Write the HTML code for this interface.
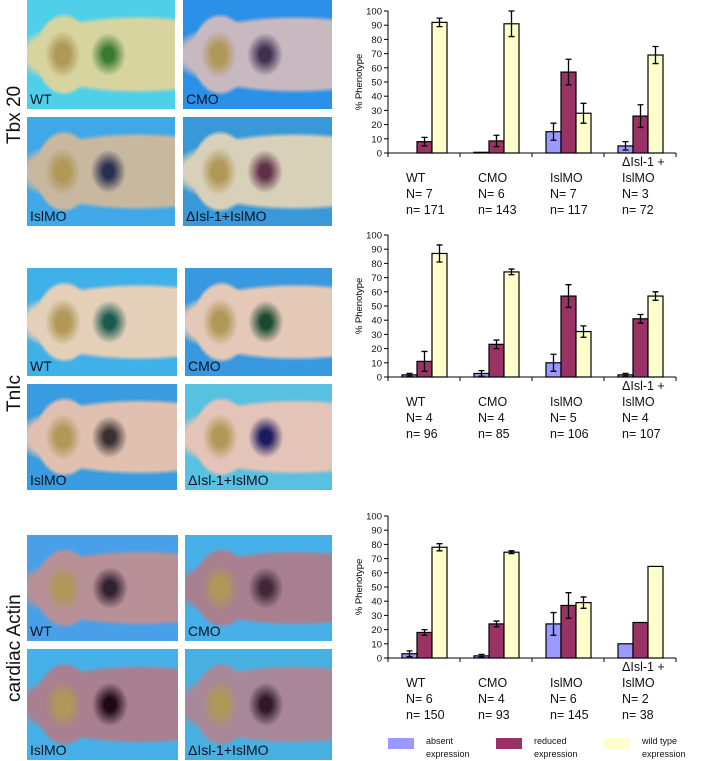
<!DOCTYPE html>
<html><head><meta charset="utf-8"><style>
body{margin:0;width:702px;height:761px;background:#fff;position:relative;overflow:hidden;font-family:"Liberation Sans",sans-serif}
.ph{position:absolute;overflow:hidden}
.ph span{position:absolute;left:3px;bottom:2px;font-size:14px;color:#112}
.side{position:absolute;font-size:19px;transform:rotate(-90deg);transform-origin:left top;white-space:nowrap;color:#111}
svg{position:absolute;left:0;top:0}
</style></head><body>
<div id="photos"></div>
<div class="side" style="left:4px;top:144px">Tbx 20</div>
<div class="side" style="left:4px;top:412px">TnIc</div>
<div class="side" style="left:4px;top:702px">cardiac Actin</div>
<svg id="chart" width="702" height="761"></svg>
<script>
const categories=["WT","CMO","IslMO","ΔIsl-1 + IslMO"];
const absent1=[0,0.5,15,5], reduced1=[8,8.5,57,26], wild1=[92,91,28,69];
const absentErr1=[0,0,6,3], reducedErr1=[3,4,9,8], wildErr1=[3,9,7,6];
const absent2=[1.5,2.5,10,1.5], reduced2=[11,23,57,41], wild2=[87,74,32,57];
const absentErr2=[1,2,6,1], reducedErr2=[7,3,8,3], wildErr2=[6,2,4,3];
const absent3=[3,1.5,24,10], reduced3=[18,24,37,25], wild3=[78,74.5,39,64.5];
const absentErr3=[2,1,8,0], reducedErr3=[2,2,9,0], wildErr3=[2.5,1,4,0];
const nBig1=[7,6,7,3], nSmall1=[171,143,117,72];
const nBig2=[4,4,5,4], nSmall2=[96,85,106,107];
const nBig3=[6,4,6,2], nSmall3=[150,93,145,38];
const yTicks=[0,10,20,30,40,50,60,70,80,90,100];
const colors=["#9999ff","#993366","#ffffcc"];
const NS="http://www.w3.org/2000/svg";
const svg=document.getElementById('chart');
function mk(t,a,p){const e=document.createElementNS(NS,t);for(const k in a)e.setAttribute(k,a[k]);(p||svg).appendChild(e);return e;}
const charts=[
 {y0:153,a:absent1,r:reduced1,w:wild1,ea:absentErr1,er:reducedErr1,ew:wildErr1,N:nBig1,n:nSmall1,ly:182},
 {y0:377,a:absent2,r:reduced2,w:wild2,ea:absentErr2,er:reducedErr2,ew:wildErr2,N:nBig2,n:nSmall2,ly:406},
 {y0:658,a:absent3,r:reduced3,w:wild3,ea:absentErr3,er:reducedErr3,ew:wildErr3,N:nBig3,n:nSmall3,ly:687}];
const ax=388, gW=72, bw=15;
charts.forEach((c,ci)=>{
 const g=mk('g',{});
 
 
 const y=v=>c.y0-v*1.42;
 mk('line',{x1:ax,y1:y(100),x2:ax,y2:c.y0,stroke:'#000','stroke-width':1},g);
 mk('line',{x1:ax,y1:c.y0,x2:ax+4*gW,y2:c.y0,stroke:'#000','stroke-width':1},g);
 for(let i=0;i<=4;i++)mk('line',{x1:ax+i*gW,y1:c.y0,x2:ax+i*gW,y2:c.y0+4,stroke:'#000'},g);
 yTicks.forEach(t=>{mk('line',{x1:ax-4,y1:y(t),x2:ax,y2:y(t),stroke:'#000'},g);
  const tx=mk('text',{x:ax-6,y:y(t)+3.5,'font-size':9.5,'text-anchor':'end',fill:'#111'},g);tx.textContent=t;});
 const yl=mk('text',{x:0,y:0,'font-size':9.5,'text-anchor':'middle',transform:`translate(362,${y(50)}) rotate(-90)`},g);
 yl.textContent='% Phenotype';
 
 
 const series=[[c.a,c.ea],[c.r,c.er],[c.w,c.ew]];
 categories.forEach((cat,i)=>{
  const gx=ax+i*gW+14;
  series.forEach((s,si)=>{
   const v=s[0][i],e=s[1][i],x=gx+si*bw;
   if(v>0){const b=mk('rect',{x:x,y:y(v),width:bw,height:c.y0-y(v),fill:colors[si],stroke:'#000','stroke-width':1.2},g);
    
    }
   if(e>0){const cx=x+bw/2;mk('path',{d:`M${cx},${y(v+e)}V${y(v-e)}M${cx-3},${y(v+e)}H${cx+3}M${cx-3},${y(v-e)}H${cx+3}`,stroke:'#000','stroke-width':1.3,fill:'none'},g);}
  });
  const lx=ax+i*gW+18;
  let lines=i==3?['ΔIsl-1 +','IslMO','N= '+c.N[i],'n= '+c.n[i]]:[cat,'N= '+c.N[i],'n= '+c.n[i]];
  let ly0=i==3?c.ly-16:c.ly;
  lines.forEach((t,k)=>{const tx=mk('text',{x:lx,y:ly0+k*16,'font-size':12.5,fill:'#111'},g);tx.textContent=t;});
 });
});
const leg=[["absent","expression"],["reduced","expression"],["wild type","expression"]];
leg.forEach((l,i)=>{const x=388+i*108;
 const r=mk('rect',{x:x,y:738,width:26,height:11,fill:colors[i]});
 
 const t1=mk('text',{x:x+38,y:744,'font-size':9,fill:'#111'});t1.textContent=l[0];
 const t2=mk('text',{x:x+38,y:757,'font-size':9,fill:'#111'});t2.textContent=l[1];});
// photos: x,y,w,h,label,stain,bg,body
const panels=[
 [27,0,148,109,'WT','#3a7a30','#50d0e8','#d8d4a0'],[183,0,149,109,'CMO','#403050','#2a90e8','#c8b8c0'],
 [27,117,148,109,'IslMO','#283050','#40a8e8','#c8b8a0'],[183,117,149,109,'ΔIsl-1+IslMO','#603048','#3898d8','#d8d0b8'],
 [27,268,150,108,'WT','#1a5a50','#40b0e8','#e4d0b8'],[185,268,147,108,'CMO','#1a4a30','#3898e0','#e4c8b8'],
 [27,384,150,106,'IslMO','#3a3030','#3a9ce0','#e0c0b0'],[185,384,147,106,'ΔIsl-1+IslMO','#1a1a60','#58c0e0','#e4c4b8'],
 [27,535,151,106,'WT','#302030','#4aa0e8','#b89098'],[185,535,147,106,'CMO','#402838','#48b0e8','#a88090'],
 [27,649,151,111,'IslMO','#200818','#48b0e8','#a88090'],[185,649,147,111,'ΔIsl-1+IslMO','#301828','#48b0e0','#a88898']];
const P=document.getElementById('photos');
panels.forEach((p,i)=>{const d=document.createElement('div');d.className='ph';
 
 
 d.style.cssText=`left:${p[0]}px;top:${p[1]}px;width:${p[2]}px;height:${p[3]}px;background:radial-gradient(ellipse 12% 20% at 55% 50%, ${p[5]} 30%, transparent 100%), radial-gradient(ellipse 12% 22% at 24% 50%, #b09858 40%, transparent 100%), radial-gradient(ellipse 85% 36% at 75% 50%, ${p[7]} 88%, transparent 100%), radial-gradient(ellipse 20% 38% at 25% 50%, ${p[7]} 88%, transparent 100%), ${p[6]};`;
 d.innerHTML='<span>'+p[4]+'</span>';P.appendChild(d);});
</script>
</body></html>
